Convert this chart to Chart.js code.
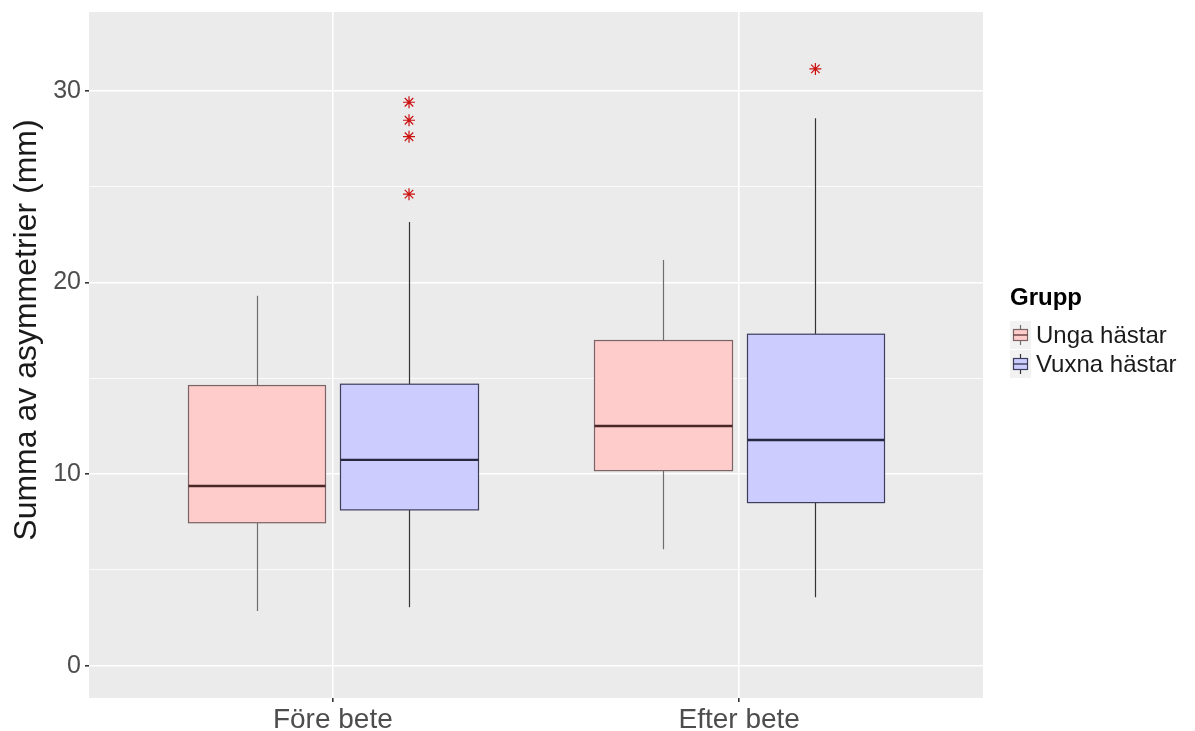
<!DOCTYPE html>
<html>
<head>
<meta charset="utf-8">
<script src="https://cdn.jsdelivr.net/npm/chart.js@4.4.1/dist/chart.umd.min.js"></script>
<style>
  html, body { margin: 0; padding: 0; background: #ffffff; }
</style>
</head>
<body>
<canvas id="chart" width="1195" height="731"></canvas>
<script>
// categories and groups
const categories = ["Före bete", "Efter bete"];
const groups = ["Unga hästar", "Vuxna hästar"];

// box statistics, one value per category
const ungaMin = [2.85, 6.08];
const ungaQ1 = [7.46, 10.18];
const ungaMedian = [9.38, 12.51];
const ungaQ3 = [14.62, 16.97];
const ungaMax = [19.31, 21.18];

const vuxnaMin = [3.05, 3.57];
const vuxnaQ1 = [8.13, 8.51];
const vuxnaMedian = [10.74, 11.78];
const vuxnaQ3 = [14.69, 17.30];
const vuxnaMax = [23.16, 28.57];

// outliers
const ungaOutliers = [[], []];
const vuxnaOutliers = [[24.61, 27.61, 28.47, 29.41], [31.15]];

// y axis ticks (labels only on the tens)
const yTicks = [0, 5, 10, 15, 20, 25, 30];
const yLabels = ["0", "", "10", "", "20", "", "30"];
const yTitle = "Summa av asymmetrier (mm)";
const legendTitle = "Grupp";

const FONT = "'Liberation Sans', Arial, sans-serif";

// layout of the dodged boxes
const dodge = [-0.1875, 0.1875];
const boxHalf = 0.169;
const fills = ["#FFCCCC", "#CCCCFF"];
const borders = ["#7a6464", "#3d3d5c"];
const medians = ["#4a2626", "#26263f"];
const whiskers = ["#6e6e6e", "#333333"];

const stats = [
	{ min: ungaMin, q1: ungaQ1, med: ungaMedian, q3: ungaQ3, max: ungaMax },
	{ min: vuxnaMin, q1: vuxnaQ1, med: vuxnaMedian, q3: vuxnaQ3, max: vuxnaMax },
];

function outlierPoints(list, gi) {
	const pts = [];
	list.forEach((vals, ci) => {
		vals.forEach((v) => pts.push({ x: ci + 1 + dodge[gi], y: v }));
	});
	return pts;
}

// panel background, boxes, whiskers, axis title and legend
const boxPlugin = {
	id: "boxes",
	beforeDraw(chart) {
		const { ctx, chartArea: a } = chart;
		ctx.save();
		ctx.fillStyle = "#EBEBEB";
		ctx.fillRect(a.left, a.top, a.right - a.left, a.bottom - a.top);
		ctx.restore();
	},
	beforeDatasetsDraw(chart) {
		const { ctx } = chart;
		const xs = chart.scales.x;
		const ys = chart.scales.y;
		ctx.save();
		stats.forEach((s, gi) => {
			categories.forEach((c, ci) => {
				const cx = ci + 1 + dodge[gi];
				const left = Math.round(xs.getPixelForValue(cx - boxHalf)) + 0.5;
				const right = Math.round(xs.getPixelForValue(cx + boxHalf)) + 0.5;
				const mid = Math.round(xs.getPixelForValue(cx)) + 0.5;
				const yMin = ys.getPixelForValue(s.min[ci]);
				const yQ1 = ys.getPixelForValue(s.q1[ci]);
				const yMed = ys.getPixelForValue(s.med[ci]);
				const yQ3 = ys.getPixelForValue(s.q3[ci]);
				const yMax = ys.getPixelForValue(s.max[ci]);

				// whiskers
				ctx.strokeStyle = whiskers[gi];
				ctx.lineWidth = 1.2;
				ctx.beginPath();
				ctx.moveTo(mid, yQ3);
				ctx.lineTo(mid, yMax);
				ctx.moveTo(mid, yQ1);
				ctx.lineTo(mid, yMin);
				ctx.stroke();

				// box
				ctx.fillStyle = fills[gi];
				ctx.fillRect(left, yQ3, right - left, yQ1 - yQ3);
				ctx.strokeStyle = borders[gi];
				ctx.lineWidth = 1.2;
				ctx.strokeRect(left, yQ3, right - left, yQ1 - yQ3);

				// median
				ctx.strokeStyle = medians[gi];
				ctx.lineWidth = 2.4;
				ctx.beginPath();
				ctx.moveTo(left, yMed);
				ctx.lineTo(right, yMed);
				ctx.stroke();
			});
		});
		ctx.restore();
	},
	afterDraw(chart) {
		const { ctx } = chart;
		ctx.save();

		// y axis title
		ctx.translate(27, 330);
		ctx.rotate(-Math.PI / 2);
		ctx.fillStyle = "#1A1A1A";
		ctx.textAlign = "center";
		ctx.textBaseline = "middle";
		ctx.font = "32px " + FONT;
		ctx.fillText(yTitle, 0, 0);
		ctx.setTransform(1, 0, 0, 1, 0, 0);

		// legend to the right of the panel
		ctx.fillStyle = "#000000";
		ctx.textBaseline = "middle";
		ctx.textAlign = "left";
		ctx.font = "bold 24px " + FONT;
		ctx.fillText(legendTitle, 1010, 298);
		ctx.font = "24px " + FONT;
		groups.forEach((g, gi) => {
			const cy = 335 + gi * 29;
			const kx = 1012;
			ctx.fillStyle = "#F2F2F2";
			ctx.fillRect(kx - 2, cy - 14, 21, 28);
			ctx.strokeStyle = whiskers[gi];
			ctx.lineWidth = 1.2;
			ctx.beginPath();
			ctx.moveTo(kx + 8.5, cy - 10);
			ctx.lineTo(kx + 8.5, cy + 10);
			ctx.stroke();
			ctx.fillStyle = fills[gi];
			ctx.fillRect(kx + 1.5, cy - 5.5, 14, 11);
			ctx.strokeStyle = borders[gi];
			ctx.strokeRect(kx + 1.5, cy - 5.5, 14, 11);
			ctx.strokeStyle = medians[gi];
			ctx.beginPath();
			ctx.moveTo(kx + 1.5, cy);
			ctx.lineTo(kx + 15.5, cy);
			ctx.stroke();
			ctx.fillStyle = "#1A1A1A";
			ctx.fillText(g, 1036, cy + 1);
		});
		ctx.restore();
	},
};

new Chart(document.getElementById("chart"), {
	type: "scatter",
	data: {
		datasets: [
			{
				label: groups[0],
				data: outlierPoints(ungaOutliers, 0),
				pointStyle: "star",
				pointRadius: 6,
				borderColor: "#CC1111",
				borderWidth: 1.2,
			},
			{
				label: groups[1],
				data: outlierPoints(vuxnaOutliers, 1),
				pointStyle: "star",
				pointRadius: 6,
				borderColor: "#CC1111",
				borderWidth: 1.2,
			},
		],
	},
	options: {
		responsive: false,
		animation: false,
		layout: { padding: { top: 12, left: 0, right: 212, bottom: 0 } },
		plugins: {
			legend: { display: false },
			tooltip: { enabled: false },
		},
		scales: {
			x: {
				type: "linear",
				min: 0.4,
				max: 2.6,
				afterBuildTicks: (s) => {
					s.ticks = [{ value: 1 }, { value: 2 }];
				},
				afterFit: (s) => {
					s.height = 33;
					s.paddingLeft = 0;
					s.paddingRight = 0;
				},
				ticks: {
					callback: (v) => categories[v - 1],
					color: "#4D4D4D",
					font: { family: FONT, size: 28 },
					padding: 1,
				},
				grid: {
					color: "#FFFFFF",
					lineWidth: 1.6,
					tickColor: "#333333",
					tickLength: 4,
				},
				border: { display: false },
			},
			y: {
				type: "linear",
				min: -1.69,
				max: 34.12,
				afterBuildTicks: (s) => {
					s.ticks = yTicks.map((v) => ({ value: v }));
				},
				afterFit: (s) => {
					s.width = 89;
					s.paddingTop = 0;
					s.paddingBottom = 0;
				},
				ticks: {
					callback: (v) => yLabels[yTicks.indexOf(v)],
					color: "#4D4D4D",
					font: { family: FONT, size: 25 },
					padding: 4,
				},
				grid: {
					color: "#FFFFFF",
					lineWidth: (c) => (c.tick && c.tick.value % 10 === 0 ? 1.6 : 0.8),
					tickColor: (c) => (c.tick && c.tick.value % 10 === 0 ? "#333333" : "rgba(0,0,0,0)"),
					tickLength: 4,
				},
				border: { display: false },
			},
		},
	},
	plugins: [boxPlugin],
});
</script>
</body>
</html>
